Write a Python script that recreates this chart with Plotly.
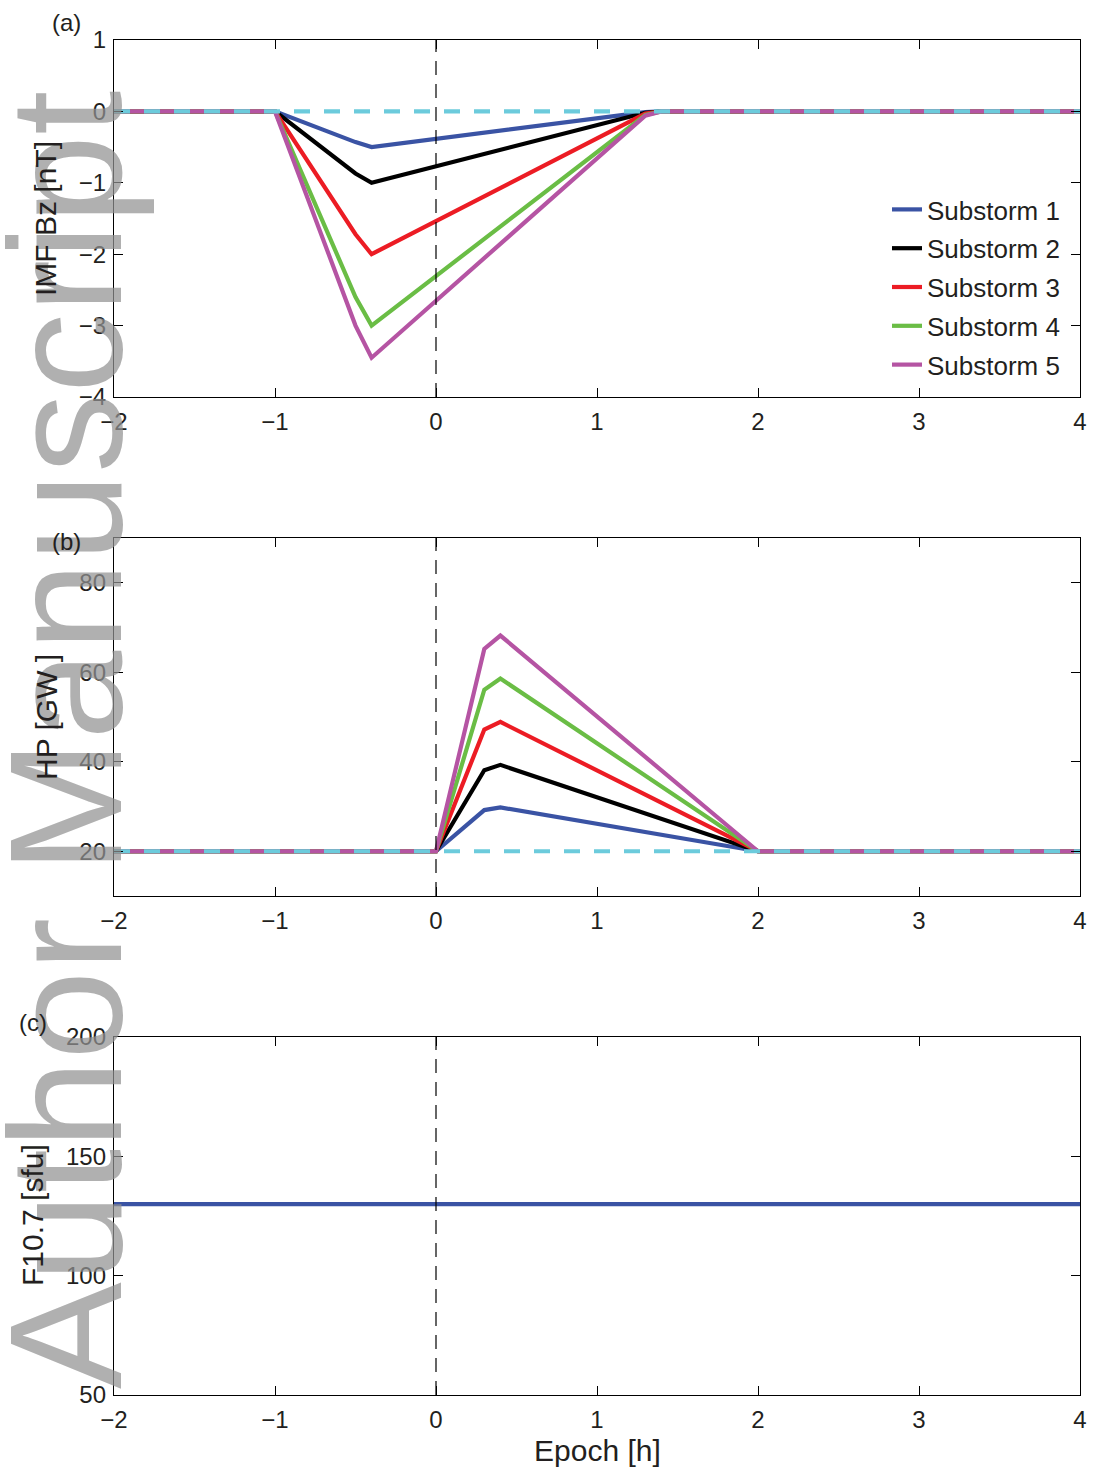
import plotly.graph_objects as go

# ---------------- data ----------------
x_bz = [-2, -1, -0.5, -0.4, 1.3, 1.4, 4]
bz_s1 = [0, 0, -0.43, -0.50, -0.01, 0, 0]
bz_s2 = [0, 0, -0.87, -1.00, -0.02, 0, 0]
bz_s3 = [0, 0, -1.72, -2.00, -0.03, 0, 0]
bz_s4 = [0, 0, -2.60, -3.00, -0.05, 0, 0]
bz_s5 = [0, 0, -3.00, -3.45, -0.06, 0, 0]
x_base = [-2, 4]
bz_base = [0, 0]

x_hp = [-2, 0, 0.3, 0.4, 2, 4]
hp_s1 = [20, 20, 29.2, 29.8, 20, 20]
hp_s2 = [20, 20, 38.1, 39.3, 20, 20]
hp_s3 = [20, 20, 47.2, 48.9, 20, 20]
hp_s4 = [20, 20, 56.1, 58.6, 20, 20]
hp_s5 = [20, 20, 65.2, 68.2, 20, 20]
hp_base = [20, 20]

x_f107 = [-2, 4]
f107 = [130, 130]

names = ["Substorm 1", "Substorm 2", "Substorm 3", "Substorm 4", "Substorm 5"]
colors = ["#3A53A4", "#000000", "#EC1C24", "#6ABD45", "#B554A3"]
base_color = "#6CCBDC"

x_ticks = [-2, -1, 0, 1, 2, 3, 4]

W, H = 1096, 1473
FONT = "Liberation Sans, Arial, Helvetica, sans-serif"
TXT = "#231F20"

fig = go.Figure()

bz_series = [bz_s1, bz_s2, bz_s3, bz_s4, bz_s5]
hp_series = [hp_s1, hp_s2, hp_s3, hp_s4, hp_s5]

for i, (nm, c, ys) in enumerate(zip(names, colors, bz_series)):
    fig.add_trace(go.Scatter(x=x_bz, y=ys, mode="lines", name=nm,
                             line=dict(color=c, width=4.2), legendgroup=f"g{i}",
                             xaxis="x", yaxis="y"))
fig.add_trace(go.Scatter(x=x_base, y=bz_base, mode="lines", showlegend=False,
                         line=dict(color=base_color, width=4.2, dash="16px,14px"),
                         xaxis="x", yaxis="y"))

for i, (nm, c, ys) in enumerate(zip(names, colors, hp_series)):
    fig.add_trace(go.Scatter(x=x_hp, y=ys, mode="lines", name=nm, showlegend=False,
                             line=dict(color=c, width=4.2), legendgroup=f"g{i}",
                             xaxis="x2", yaxis="y2"))
fig.add_trace(go.Scatter(x=x_base, y=hp_base, mode="lines", showlegend=False,
                         line=dict(color=base_color, width=4.2, dash="16px,14px"),
                         xaxis="x2", yaxis="y2"))

fig.add_trace(go.Scatter(x=x_f107, y=f107, mode="lines", showlegend=False,
                         line=dict(color=colors[0], width=4.2),
                         xaxis="x3", yaxis="y3"))

# vertical dashed lines at epoch 0
for xr, yr in [("x", "y domain"), ("x2", "y2 domain"), ("x3", "y3 domain")]:
    fig.add_shape(type="line", xref=xr, yref=yr, x0=0, x1=0, y0=0, y1=1,
                  line=dict(color="black", width=1.2, dash="14px,9px"), layer="above")

def px_x(p):
    return p / W

def px_y(p):
    return 1 - p / H

xdom = [px_x(114), px_x(1080)]
ydoms = [[px_y(397), px_y(40)], [px_y(896), px_y(538)], [px_y(1395), px_y(1037)]]

axis_common = dict(showline=True, linecolor="black", linewidth=1.3, mirror="ticks",
                   ticks="inside", ticklen=9, tickwidth=1.1, tickcolor="black",
                   showgrid=False, zeroline=False, automargin=False,
                   tickfont=dict(family=FONT, size=24, color=TXT))

layout = dict(
    width=W, height=H, plot_bgcolor="white", paper_bgcolor="white",
    margin=dict(l=0, r=0, t=0, b=0, autoexpand=False),
    font=dict(family=FONT, color=TXT),
    showlegend=True,
    legend=dict(x=px_x(887), y=px_y(186), xanchor="left", yanchor="top",
                bgcolor="rgba(0,0,0,0)", font=dict(family=FONT, size=26, color=TXT),
                tracegroupgap=2),
)
for k, (xa, ya, yd, yr, yt) in enumerate([
        ("xaxis", "yaxis", ydoms[0], [-4, 1], [-4, -3, -2, -1, 0, 1]),
        ("xaxis2", "yaxis2", ydoms[1], [10, 90], [20, 40, 60, 80]),
        ("xaxis3", "yaxis3", ydoms[2], [50, 200], [50, 100, 150, 200])]):
    suffix = "" if k == 0 else str(k + 1)
    layout[xa] = dict(axis_common, domain=xdom, range=[-2, 4], tickvals=x_ticks,
                      anchor="y" + suffix, ticklabelstandoff=3)
    layout[ya] = dict(axis_common, domain=yd, range=yr, tickvals=yt,
                      anchor="x" + suffix, ticklabelstandoff=2)
fig.update_layout(**layout)

annotations = [
    # watermark
    dict(text="Author Manuscript", x=px_x(66), y=px_y(740), textangle=-90,
         font=dict(family=FONT, size=160, color="rgba(145,145,145,0.72)")),
    dict(text="IMF Bz [nT]", x=px_x(45), y=px_y(219), textangle=-90,
         font=dict(family=FONT, size=30, color=TXT)),
    dict(text="HP [GW ]", x=px_x(46), y=px_y(717), textangle=-90,
         font=dict(family=FONT, size=30, color=TXT)),
    dict(text="F10.7 [sfu]", x=px_x(32), y=px_y(1215), textangle=-90,
         font=dict(family=FONT, size=30, color=TXT)),
    dict(text="(a)", x=px_x(66), y=px_y(22), font=dict(family=FONT, size=24, color=TXT)),
    dict(text="(b)", x=px_x(66), y=px_y(542), font=dict(family=FONT, size=24, color=TXT)),
    dict(text="(c)", x=px_x(33), y=px_y(1022), font=dict(family=FONT, size=24, color=TXT)),
    dict(text="Epoch [h]", x=px_x(597), y=px_y(1450), font=dict(family=FONT, size=30, color=TXT)),
]
for a in annotations:
    a.setdefault("xref", "paper")
    a.setdefault("yref", "paper")
    a.setdefault("showarrow", False)
    a.setdefault("xanchor", "center")
    a.setdefault("yanchor", "middle")
fig.update_layout(annotations=annotations)

fig.write_html("out.html")
